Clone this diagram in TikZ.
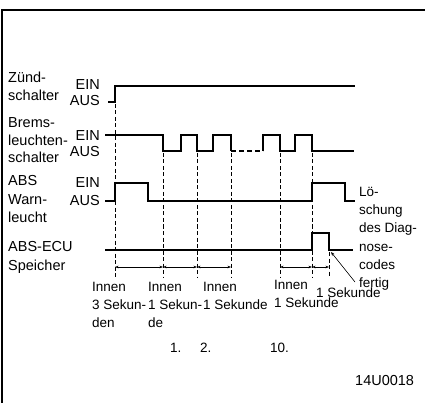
\documentclass[tikz,border=0pt]{standalone}
\usepackage{fontspec}
\setmainfont{Liberation Sans}
\usetikzlibrary{arrows.meta}
\begin{document}
\begin{tikzpicture}[x=1pt,y=-1pt,
  sig/.style={line width=1.3pt},
  guide/.style={line width=0.7pt, dash pattern=on 4pt off 2.5pt},
  span/.style={line width=0.7pt, {Stealth[length=3.5pt,width=2.6pt]}-{Stealth[length=3.5pt,width=2.6pt]}},
  lbl/.style={inner sep=0pt, align=left, anchor=west, font=\fontsize{14.5}{18}\selectfont},
  lvl/.style={inner sep=0pt, anchor=east, font=\fontsize{14.5}{15}\selectfont},
  note/.style={inner sep=0pt, align=left, anchor=west, font=\fontsize{13.5}{18}\selectfont}]
\useasboundingbox (0,0) rectangle (425,403);
\fill[white] (0,0) rectangle (425,403);
\draw[line width=2.2pt] (2,403) -- (2,10) -- (425,10);

% signals
\draw[sig] (108,102) -- (115,102) -- (115,86) -- (355,86);
\draw[sig] (105,135) -- (163,135) -- (163,151) -- (181,151) -- (181,135) -- (197,135) -- (197,151) -- (213,151) -- (213,135) -- (231,135) -- (231,151);
\draw[sig, dash pattern=on 5pt off 3pt] (231,151) -- (263,151);
\draw[sig] (263,151) -- (263,135) -- (280,135) -- (280,151) -- (295,151) -- (295,135) -- (312,135) -- (312,151) -- (354,151);
\draw[sig] (105,201) -- (115,201) -- (115,183) -- (148,183) -- (148,201) -- (312,201) -- (312,183) -- (345,183) -- (345,201) -- (355,201);
\draw[sig] (105,250) -- (312,250) -- (312,233) -- (329,233) -- (329,250) -- (353,250);

% guides
\draw[guide] (115,104) -- (115,277);
\foreach \xx in {163,197,231,280,312} \draw[guide] (\xx,153) -- (\xx,277);
\draw[guide] (329,252) -- (329,277);

% time spans
\coordinate (t0) at (115,267);
\coordinate (t1) at (163,267);
\coordinate (t2) at (197,267);
\coordinate (t3) at (231,267);
\coordinate (t4) at (280,267);
\coordinate (t5) at (312,267);
\coordinate (t6) at (329,267);
\draw[span] (t0) -- (t1);
\draw[span] (t1) -- (t2);
\draw[span] (t2) -- (t3);
\draw[span] (t4) -- (t5);
\draw[span] (t5) -- (t6);

% left labels
\node[lbl] (zs) at (8,86) {Zünd-\\schalter};
\node[lvl] (zein) at (100,85) {EIN};
\node[lvl] (zaus) at (100,101) {AUS};
\node[lbl, font=\fontsize{14.5}{17.5}\selectfont] (bs) at (8,140.5) {Brems-\\leuchten-\\schalter};
\node[lvl] (bein) at (100,136) {EIN};
\node[lvl] (baus) at (100,152) {AUS};
\node[lbl, font=\fontsize{14.5}{18.5}\selectfont] (ws) at (8,199.5) {ABS\\Warn-\\leucht};
\node[lvl] (wein) at (100,183) {EIN};
\node[lvl] (waus) at (100,201) {AUS};
\node[lbl, font=\fontsize{14.5}{19}\selectfont] (es) at (8,257.5) {ABS-ECU\\Speicher};

% right label
\node[note, font=\fontsize{13.5}{18.2}\selectfont] (rl) at (359,238.8) {Lö-\\schung\\des Diag-\\nose-\\codes\\fertig};
\coordinate (lead) at (355,282);
\coordinate (fall) at (331,252);
\draw[line width=0.6pt, -{Stealth[length=4pt,width=3pt]}] (lead) -- (fall);

% bottom labels
\node[note] (c1) at (92,305) {Innen\\3 Sekun-\\den};
\node[note] (c2) at (148,305) {Innen\\1 Sekun-\\de};
\node[note] (c3) at (203,296) {Innen\\1 Sekunde};
\node[note] (c4) at (274,294) {Innen\\1 Sekunde};
\node[note] (c5) at (316,293) {1 Sekunde};
\node[note] (n1) at (170,348) {1.};
\node[note] (n2) at (200,348) {2.};
\node[note] (n3) at (270,348) {10.};
\node[note, font=\fontsize{14.5}{18}\selectfont] (code) at (355,381) {14U0018};
\end{tikzpicture}
\end{document}
